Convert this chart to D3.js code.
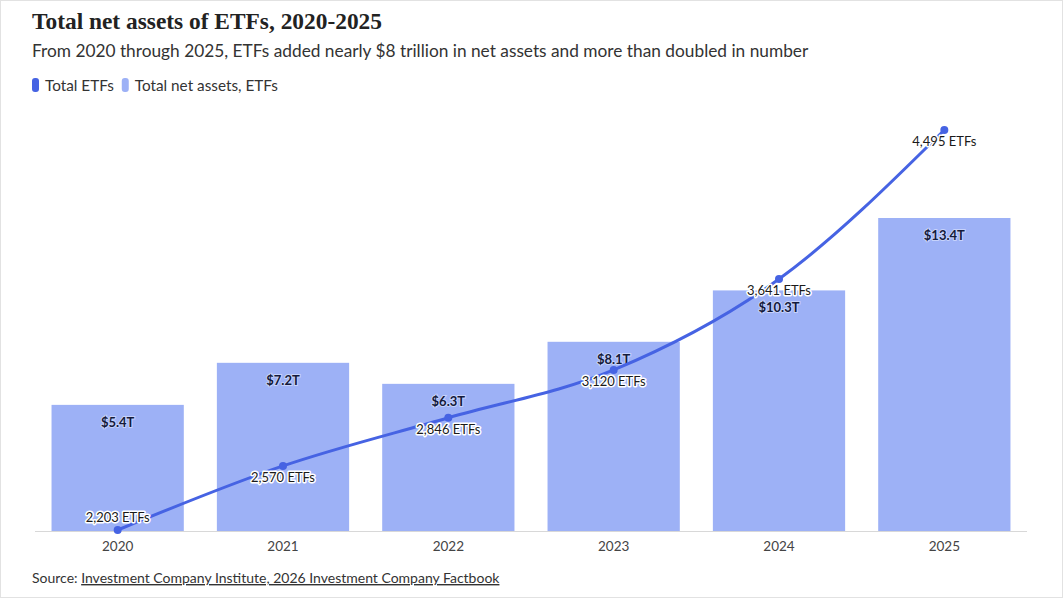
<!DOCTYPE html>
<html>
<head>
<meta charset="utf-8">
<script src="https://cdn.jsdelivr.net/npm/d3@7"></script>
<style>
  body { margin: 0; background: #fff; }
  svg { font-family: Lato, "Noto Sans", sans-serif; }
</style>
</head>
<body>
<svg width="1063" height="598"></svg>
<script>
// data
var years = ["2020", "2021", "2022", "2023", "2024", "2025"];
var netAssets = [5.4, 7.2, 6.3, 8.1, 10.3, 13.4];
var assetLabels = ["$5.4T", "$7.2T", "$6.3T", "$8.1T", "$10.3T", "$13.4T"];
var etfCounts = [2203, 2570, 2846, 3120, 3641, 4495];

var svg = d3.select("svg"),
    width = +svg.attr("width"),
    height = +svg.attr("height");

var barColor = "#9db1f6",
    lineColor = "#4663e3";

// frame
svg.append("rect")
    .attr("x", 0.5).attr("y", 0.5)
    .attr("width", width - 1).attr("height", height - 1)
    .attr("fill", "#fff").attr("stroke", "#e2e2e2");

// header
svg.append("text")
    .attr("x", 32).attr("y", 29)
    .attr("font-family", "'Liberation Serif', 'DejaVu Serif', serif")
    .attr("font-size", 23.4).attr("font-weight", "bold")
    .attr("fill", "#222")
    .text("Total net assets of ETFs, 2020-2025");

svg.append("text")
    .attr("x", 32).attr("y", 57)
    .attr("font-size", 17.3).attr("fill", "#333")
    .text("From 2020 through 2025, ETFs added nearly $8 trillion in net assets and more than doubled in number");

// legend
var legendItems = [["Total ETFs", lineColor], ["Total net assets, ETFs", barColor]];
var lx = 32;
legendItems.forEach(function (d) {
    svg.append("rect").attr("x", lx).attr("y", 78).attr("width", 7).attr("height", 14)
        .attr("rx", 3).attr("fill", d[1]);
    var t = svg.append("text").attr("x", lx + 13).attr("y", 91)
        .attr("font-size", 15.3).attr("fill", "#333").text(d[0]);
    lx += 13 + t.node().getComputedTextLength() + 8;
});

// scales
var x = d3.scaleBand()
    .domain(years)
    .range([35, 1027])
    .paddingInner(0.2)
    .paddingOuter(0.1);

var y = d3.scaleLinear()
    .domain([0, 13.4])
    .range([531, 218]);

var yLine = d3.scaleLinear()
    .domain([2203, 4495])
    .range([530, 130]);

// bars
svg.append("g")
    .selectAll("rect")
    .data(netAssets)
    .enter()
    .append("rect")
    .attr("x", function (d, i) { return x(years[i]); })
    .attr("y", function (d) { return y(d); })
    .attr("width", x.bandwidth())
    .attr("height", function (d) { return y(0) - y(d); })
    .attr("fill", barColor);

// x axis
var xAxis = svg.append("g")
    .attr("transform", "translate(0,531)")
    .call(d3.axisBottom(x).tickSize(0).tickPadding(10));
xAxis.select(".domain").attr("stroke", "#d8d8d8").attr("d", "M35,0.5H1027");
xAxis.selectAll("text")
    .attr("font-family", "Lato, sans-serif")
    .attr("font-size", 13.5).attr("fill", "#444");

// bar labels
svg.append("g")
    .selectAll("text")
    .data(netAssets)
    .enter()
    .append("text")
    .attr("x", function (d, i) { return x(years[i]) + x.bandwidth() / 2; })
    .attr("y", function (d) { return y(d) + 22; })
    .attr("text-anchor", "middle")
    .attr("font-size", 13).attr("font-weight", "bold")
    .attr("fill", "#141a3c")
    .attr("stroke", "#c6d2fb").attr("stroke-width", 2).attr("paint-order", "stroke")
    .text(function (d, i) { return assetLabels[i]; });

// line
var cx = function (d, i) { return x(years[i]) + x.bandwidth() / 2; };
var line = d3.line()
    .x(cx)
    .y(function (d) { return yLine(d); })
    .curve(d3.curveMonotoneX);

svg.append("path")
    .datum(etfCounts)
    .attr("d", line)
    .attr("fill", "none")
    .attr("stroke", lineColor)
    .attr("stroke-width", 3);

svg.append("g")
    .selectAll("circle")
    .data(etfCounts)
    .enter()
    .append("circle")
    .attr("cx", cx)
    .attr("cy", function (d) { return yLine(d); })
    .attr("r", 4)
    .attr("fill", lineColor);

// line labels
var fmt = d3.format(",");
svg.append("g")
    .selectAll("text")
    .data(etfCounts)
    .enter()
    .append("text")
    .attr("x", cx)
    .attr("y", function (d, i) { return yLine(d) + (i === 0 ? -8 : 16); })
    .attr("text-anchor", "middle")
    .attr("font-size", 13)
    .attr("fill", "#1a1a1a")
    .attr("stroke", "#fff").attr("stroke-width", 3).attr("stroke-linejoin", "round")
    .attr("paint-order", "stroke")
    .text(function (d) { return fmt(d) + " ETFs"; });

// source
var src = svg.append("text")
    .attr("x", 32).attr("y", 583)
    .attr("font-size", 14).attr("fill", "#333");
src.append("tspan").text("Source: ");
src.append("tspan").attr("text-decoration", "underline")
    .text("Investment Company Institute, 2026 Investment Company Factbook");
</script>
</body>
</html>
